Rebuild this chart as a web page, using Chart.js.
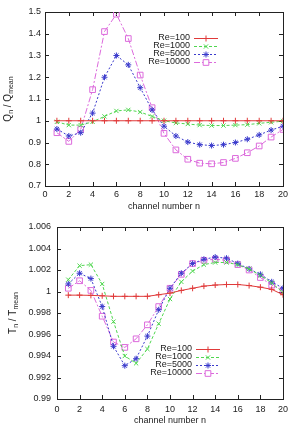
<!DOCTYPE html>
<html>
<head>
<meta charset="utf-8">
<script src="https://cdn.jsdelivr.net/npm/chart.js@4/dist/chart.umd.min.js"></script>
<style>
  body { margin: 0; background: #fff; }
  canvas { position: absolute; left: 0; }
  #flowChart { top: 0; }
  #tempChart { top: 212px; }
</style>
</head>
<body>
<canvas id="flowChart" width="293" height="212"></canvas>
<canvas id="tempChart" width="293" height="212"></canvas>
<script>
const channels = [1, 2, 3, 4, 5, 6, 7, 8, 9, 10, 11, 12, 13, 14, 15, 16, 17, 18, 19, 20];
const reLabels = ['Re=100', 'Re=1000', 'Re=5000', 'Re=10000'];

// Q_n / Q_mean
const flowRe100 = [1, 1, 1, 1, 1, 1, 1, 1, 1, 1, 1, 1, 1, 1, 1, 1, 1, 1, 1, 1];
const flowRe1000 = [0.995, 0.98, 0.98, 0.995, 1.02, 1.045, 1.05, 1.04, 1.02, 1.0, 0.99, 0.985, 0.98, 0.978, 0.978, 0.98, 0.982, 0.988, 0.993, 0.998];
const flowRe5000 = [0.962, 0.93, 0.945, 1.035, 1.2, 1.3, 1.257, 1.152, 1.05, 0.975, 0.93, 0.902, 0.89, 0.886, 0.89, 0.9, 0.915, 0.935, 0.957, 0.975];
const flowRe10000 = [0.945, 0.905, 0.96, 1.143, 1.41, 1.49, 1.378, 1.21, 1.06, 0.942, 0.866, 0.823, 0.805, 0.802, 0.808, 0.827, 0.853, 0.884, 0.925, 0.96];

// T_n / T_mean
const tempRe100 = [0.99966, 0.99966, 0.99964, 0.9996, 0.99955, 0.99955, 0.99955, 0.99955, 0.9997, 0.99985, 1.0001, 1.0003, 1.0005, 1.0006, 1.00065, 1.00065, 1.00055, 1.0004, 1.0002, 0.9997];
const tempRe1000 = [1.0011, 1.0024, 1.0025, 1.0007, 0.9972, 0.994, 0.99332, 0.99465, 0.997, 0.9993, 1.0009, 1.0019, 1.0025, 1.0027, 1.0027, 1.0025, 1.0021, 1.0015, 1.0008, 0.9999];
const tempRe5000 = [1.0007, 1.0017, 1.0012, 0.9986, 0.9949, 0.9931, 0.99375, 0.99585, 0.9983, 1.0003, 1.0017, 1.0026, 1.003, 1.0032, 1.0031, 1.0026, 1.0021, 1.0016, 1.0009, 1.0003];
const tempRe10000 = [1.0003, 1.001, 1.0001, 0.9977, 0.9953, 0.9948, 0.9956, 0.9969, 0.9986, 1.0003, 1.0016, 1.0026, 1.0029, 1.003, 1.0029, 1.0025, 1.002, 1.0013, 1.0006, 1.0001];

const FONT = '"Liberation Sans", Arial, sans-serif';
const styles = [
  { color: '#e03a3a', dash: [], point: 'cross', radius: 3 },
  { color: '#4fd64f', dash: [3, 2], point: 'crossRot', radius: 3 },
  { color: '#3a3acc', dash: [2, 2], point: 'star', radius: 3 },
  { color: '#dc6adc', dash: [6, 2, 2, 2], point: 'rect', radius: 4 }
];

function makeDatasets(seriesList) {
  return seriesList.map((vals, i) => ({
    label: reLabels[i],
    data: channels.map((c, k) => ({ x: c, y: vals[k] })),
    borderColor: styles[i].color,
    backgroundColor: 'rgba(0,0,0,0)',
    borderWidth: 1,
    borderDash: styles[i].dash,
    pointStyle: styles[i].point,
    pointRadius: styles[i].radius,
    pointBorderColor: styles[i].color,
    pointBackgroundColor: 'rgba(0,0,0,0)',
    pointBorderWidth: 1,
    tension: 0
  }));
}

// gnuplot-like border with inward ticks on all sides
const framePlugin = {
  id: 'frame',
  beforeDatasetsDraw(chart) {
    const { ctx, chartArea: a, scales } = chart;
    ctx.save();
    ctx.strokeStyle = '#222';
    ctx.lineWidth = 1;
    ctx.strokeRect(Math.round(a.left) + 0.5, Math.round(a.top) + 0.5, Math.round(a.right - a.left), Math.round(a.bottom - a.top));
    ctx.beginPath();
    scales.x.ticks.forEach(t => {
      const px = Math.round(scales.x.getPixelForValue(t.value)) + 0.5;
      ctx.moveTo(px, a.bottom); ctx.lineTo(px, a.bottom - 4);
      ctx.moveTo(px, a.top); ctx.lineTo(px, a.top + 4);
    });
    scales.y.ticks.forEach(t => {
      const py = Math.round(scales.y.getPixelForValue(t.value)) + 0.5;
      ctx.moveTo(a.left, py); ctx.lineTo(a.left + 4, py);
      ctx.moveTo(a.right, py); ctx.lineTo(a.right - 4, py);
    });
    ctx.stroke();
    ctx.restore();
  }
};

// legend in gnuplot style: text right-aligned, then line sample with point
const keyPlugin = {
  id: 'key',
  afterDraw(chart, args, opts) {
    const ctx = chart.ctx;
    ctx.save();
    ctx.font = '9px ' + FONT;
    ctx.textAlign = 'right';
    ctx.textBaseline = 'middle';
    chart.data.datasets.forEach((ds, i) => {
      const y = opts.y + i * opts.rowH;
      ctx.fillStyle = '#222';
      ctx.fillText(ds.label, opts.x, y);
      ctx.strokeStyle = ds.borderColor;
      ctx.lineWidth = 1;
      ctx.setLineDash(ds.borderDash);
      ctx.beginPath();
      ctx.moveTo(opts.x + 4, y + 0.5);
      ctx.lineTo(opts.x + 28, y + 0.5);
      ctx.stroke();
      ctx.setLineDash([]);
      ctx.fillStyle = '#ffffff';
      Chart.helpers.drawPoint(ctx, { pointStyle: ds.pointStyle, radius: ds.pointRadius, rotation: 0, borderWidth: 1 }, opts.x + 16, y + 0.5);
    });
    ctx.restore();
  }
};

// rotated y title with subscripts
const yTitlePlugin = {
  id: 'ytitle',
  afterDraw(chart, args, opts) {
    const { ctx, chartArea: a } = chart;
    const big = '10px ' + FONT, small = '7px ' + FONT;
    ctx.save();
    ctx.translate(opts.x, (a.top + a.bottom) / 2);
    ctx.rotate(-Math.PI / 2);
    ctx.fillStyle = '#222';
    ctx.textBaseline = 'middle';
    ctx.textAlign = 'left';
    let total = 0;
    opts.parts.forEach(p => { ctx.font = p[1] ? small : big; total += ctx.measureText(p[0]).width; });
    let cx = -total / 2;
    opts.parts.forEach(p => {
      ctx.font = p[1] ? small : big;
      ctx.fillText(p[0], cx, p[1] ? 3 : 0);
      cx += ctx.measureText(p[0]).width;
    });
    ctx.restore();
  }
};

function fmt(v) {
  return parseFloat(Number(v).toFixed(3)).toString();
}

function makeChart(id, datasets, cfg) {
  return new Chart(document.getElementById(id).getContext('2d'), {
    type: 'line',
    data: { datasets: datasets },
    plugins: [framePlugin, keyPlugin, yTitlePlugin],
    options: {
      responsive: false,
      animation: false,
      layout: { padding: { top: cfg.top, right: cfg.right, left: 0, bottom: 0 } },
      plugins: {
        legend: { display: false },
        tooltip: { enabled: false },
        key: cfg.key,
        ytitle: cfg.ytitle
      },
      scales: {
        x: {
          type: 'linear',
          min: 0, max: 20,
          afterFit: s => { s.height = cfg.xHeight; },
          grid: { display: false, drawTicks: false },
          border: { display: false },
          ticks: { stepSize: 2, padding: cfg.xPad, color: '#222', font: { family: FONT, size: 9 }, maxRotation: 0 },
          title: { display: true, text: 'channel number n', color: '#222', font: { family: FONT, size: 9 }, padding: { top: 0, bottom: cfg.xTitlePad } }
        },
        y: {
          min: cfg.yMin, max: cfg.yMax,
          afterFit: s => { s.width = cfg.yWidth; },
          grid: { display: false, drawTicks: false },
          border: { display: false },
          ticks: { stepSize: cfg.yStep, padding: cfg.yPad, color: '#222', font: { family: FONT, size: 9 }, callback: fmt }
        }
      }
    }
  });
}

makeChart('flowChart', makeDatasets([flowRe100, flowRe1000, flowRe5000, flowRe10000]), {
  top: 12, right: 10, xHeight: 26, yWidth: 45, xPad: 3, yPad: 4, xTitlePad: 0,
  yMin: 0.7, yMax: 1.5, yStep: 0.1,
  ytitle: { x: 8, parts: [['Q', false], ['n', true], [' / Q', false], ['mean', true]] },
  key: { x: 190, y: 38, rowH: 8 }
});

makeChart('tempChart', makeDatasets([tempRe100, tempRe1000, tempRe5000, tempRe10000]), {
  top: 15, right: 9, xHeight: 25, yWidth: 57, xPad: 5, yPad: 6, xTitlePad: -2,
  yMin: 0.99, yMax: 1.006, yStep: 0.002,
  ytitle: { x: 13, parts: [['T', false], ['n', true], [' / T', false], ['mean', true]] },
  key: { x: 192, y: 137, rowH: 8 }
});
</script>
</body>
</html>
